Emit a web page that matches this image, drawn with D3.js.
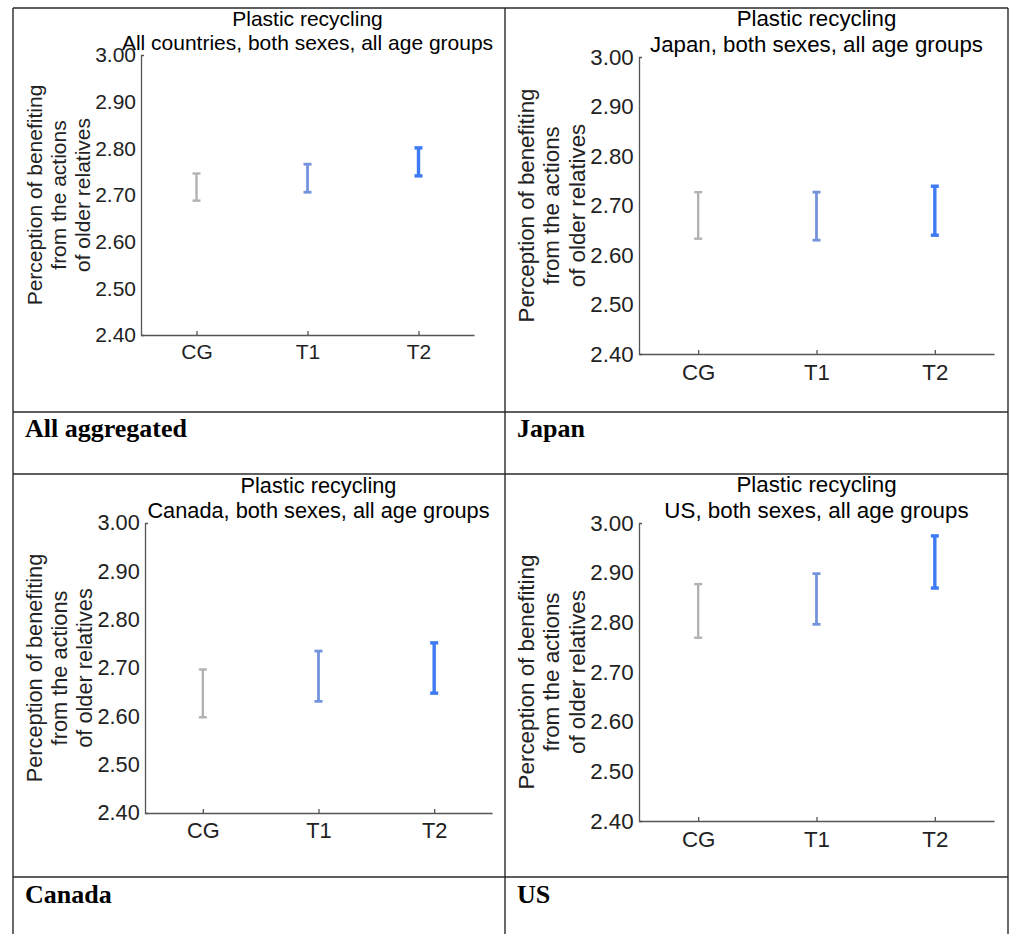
<!DOCTYPE html>
<html>
<head>
<meta charset="utf-8">
<script src="https://cdn.jsdelivr.net/npm/d3@7"></script>
<style>
  body { margin: 0; background: #fff; }
  svg { display: block; }
  .tick text { fill: #222; }
</style>
</head>
<body>
<svg id="chart" width="1011" height="934"></svg>
<script>
"use strict";

// Groupes de traitement et valeurs (bornes basses / hautes des barres)
const groups = ["CG", "T1", "T2"];
const yTicks = [2.40, 2.50, 2.60, 2.70, 2.80, 2.90, 3.00];
const mainTitle = "Plastic recycling";
const subtitles = [
  "All countries, both sexes, all age groups",
  "Japan, both sexes, all age groups",
  "Canada, both sexes, all age groups",
  "US, both sexes, all age groups"
];
const cellNames = ["All aggregated", "Japan", "Canada", "US"];
const yLabelLines = ["Perception of benefiting", "from the actions", "of older relatives"];

const lowAll = [2.688, 2.706, 2.741];
const highAll = [2.746, 2.766, 2.801];
const lowJapan = [2.633, 2.630, 2.640];
const highJapan = [2.727, 2.727, 2.739];
const lowCanada = [2.598, 2.631, 2.648];
const highCanada = [2.697, 2.735, 2.752];
const lowUS = [2.769, 2.796, 2.869];
const highUS = [2.877, 2.898, 2.974];

var colors = ["#b2b2b2", "#7493dd", "#3d7af4"];
var widths = [2.4, 2.8, 3.4];

var svg = d3.select("#chart");

/**
 * Dessine un graphique (barres d'erreur) dans son cadre.
 *
 * @param f       Cadre de la zone de tracé (left, top, bottom, right).
 * @param sub     Deuxième ligne du titre.
 * @param low     Bornes basses.
 * @param high    Bornes hautes.
 */
function drawPanel(f, sub, low, high) {
  var s = (f.bottom - f.top) / 280;
  var fs = 21 * s;
  var x = d3.scalePoint().domain(groups).range([f.left, f.right]).padding(0.5);
  var y = d3.scaleLinear().domain([2.4, 3.0]).range([f.bottom, f.top]);
  var g = svg.append("g").attr("class", "panel")
    .style("font-family", "'Liberation Sans', Arial, sans-serif");

  var yAxis = d3.axisLeft(y).tickValues(yTicks)
    .tickFormat(d3.format(".2f"))
    .tickSizeInner(0).tickSizeOuter(-3).tickPadding(5 * s);
  var ya = g.append("g").attr("transform", "translate(" + f.left + ",0)").call(yAxis);
  ya.selectAll("text").attr("font-size", fs);

  var xAxis = d3.axisBottom(x).tickSizeInner(-4).tickSizeOuter(0).tickPadding(9.2 * s);
  var xa = g.append("g").attr("transform", "translate(0," + f.bottom + ")").call(xAxis);
  xa.selectAll("text").attr("font-size", fs);

  g.selectAll(".domain").attr("stroke", "#555").attr("stroke-width", 1.3);
  g.selectAll(".tick line").attr("stroke", "#555").attr("stroke-width", 1.3);

  // titre sur deux lignes
  var cx = (f.left + f.right) / 2;
  var base2 = f.top - 5 * s;
  g.append("text").attr("x", cx).attr("y", base2 - 24 * s)
    .attr("text-anchor", "middle").attr("font-size", fs).text(mainTitle);
  g.append("text").attr("x", cx).attr("y", base2)
    .attr("text-anchor", "middle").attr("font-size", fs).text(sub);

  // étiquette de l'axe Y
  var offsets = [99, 75, 51];
  var cy = (f.top + f.bottom) / 2;
  yLabelLines.forEach(function (t, i) {
    g.append("text")
      .attr("transform", "translate(" + (f.left - offsets[i] * s) + "," + cy + ") rotate(-90)")
      .attr("text-anchor", "middle").attr("font-size", fs).attr("fill", "#222")
      .text(t);
  });

  // barres d'erreur
  var bars = g.selectAll(".bar").data(groups).enter().append("g").attr("class", "bar")
    .attr("stroke", function (d, i) { return colors[i]; })
    .attr("stroke-width", function (d, i) { return widths[i]; });
  bars.append("line")
    .attr("x1", function (d) { return x(d); }).attr("x2", function (d) { return x(d); })
    .attr("y1", function (d, i) { return y(low[i]); })
    .attr("y2", function (d, i) { return y(high[i]); });
  bars.append("line")
    .attr("x1", function (d) { return x(d) - 4; }).attr("x2", function (d) { return x(d) + 4; })
    .attr("y1", function (d, i) { return y(low[i]); })
    .attr("y2", function (d, i) { return y(low[i]); });
  bars.append("line")
    .attr("x1", function (d) { return x(d) - 4; }).attr("x2", function (d) { return x(d) + 4; })
    .attr("y1", function (d, i) { return y(high[i]); })
    .attr("y2", function (d, i) { return y(high[i]); });
}

var frames = [
  { left: 141, top: 55, bottom: 335, right: 474 },
  { left: 639, top: 57, bottom: 354, right: 994 },
  { left: 145, top: 523, bottom: 813, right: 492 },
  { left: 639, top: 523, bottom: 821, right: 994 }
];
var lows = [lowAll, lowJapan, lowCanada, lowUS];
var highs = [highAll, highJapan, highCanada, highUS];

frames.forEach(function (f, i) {
  drawPanel(f, subtitles[i], lows[i], highs[i]);
});

// tableau autour des graphiques
var table = svg.append("g").attr("stroke", "#2a2a2a").attr("stroke-width", 1.4);
[[13, 8, 1008, 8], [13, 412, 1008, 412], [13, 474, 1008, 474], [13, 877, 1008, 877],
 [13, 8, 13, 940], [505, 8, 505, 940], [1008, 8, 1008, 940]].forEach(function (l) {
  table.append("line").attr("x1", l[0]).attr("y1", l[1]).attr("x2", l[2]).attr("y2", l[3]);
});

var cells = [[25, 437], [517, 437], [25, 903], [517, 903]];
svg.selectAll(".cell").data(cellNames).enter().append("text")
  .attr("class", "cell")
  .attr("x", function (d, i) { return cells[i][0]; })
  .attr("y", function (d, i) { return cells[i][1]; })
  .style("font-family", "'Liberation Serif', 'Times New Roman', serif")
  .attr("font-weight", "bold").attr("font-size", 26)
  .text(function (d) { return d; });
</script>
</body>
</html>
